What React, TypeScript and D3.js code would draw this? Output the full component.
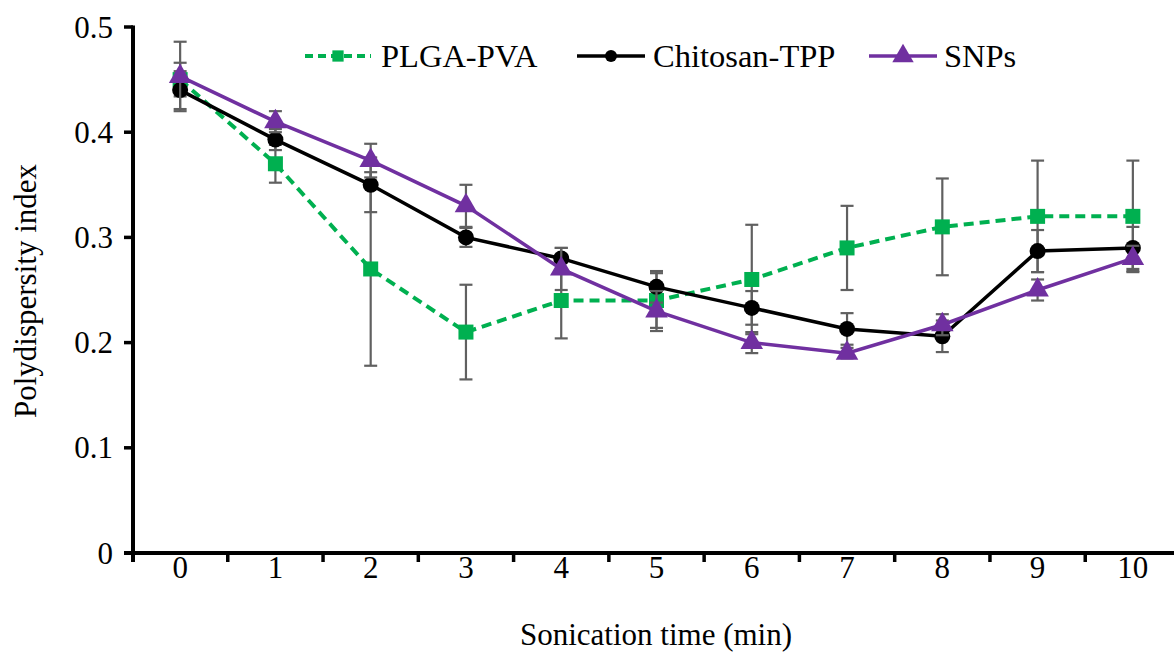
import React from "react";
import * as d3 from "d3";

const categories = ["0", "1", "2", "3", "4", "5", "6", "7", "8", "9", "10"];
const plgaValues = [0.45, 0.37, 0.27, 0.21, 0.24, 0.24, 0.26, 0.29, 0.31, 0.32, 0.32];
const plgaErrors = [0.016, 0.018, 0.092, 0.045, 0.036, 0.026, 0.052, 0.04, 0.046, 0.053, 0.053];
const chitosanValues = [0.44, 0.393, 0.35, 0.3, 0.28, 0.253, 0.233, 0.213, 0.206, 0.287, 0.29];
const chitosanErrors = [0.018, 0.01, 0.026, 0.009, 0.01, 0.015, 0.016, 0.015, 0.015, 0.02, 0.02];
const snpValues = [0.453, 0.41, 0.373, 0.33, 0.27, 0.23, 0.2, 0.19, 0.217, 0.25, 0.28];
const snpErrors = [0.033, 0.01, 0.016, 0.02, 0.02, 0.019, 0.01, 0.005, 0.01, 0.01, 0.012];
const yTicks = [0, 0.1, 0.2, 0.3, 0.4, 0.5];
const seriesNames = ["PLGA-PVA", "Chitosan-TPP", "SNPs"];

const FONT = "'Liberation Serif', 'Times New Roman', serif";
const FS = 31;

export default function App() {
  const W = 1174;
  const H = 657;
  const x = d3.scaleBand<string>().domain(categories).range([132.5, 1180.5]).padding(0);
  const y = d3.scaleLinear().domain([0, 0.5]).range([553, 27]);
  const cx = (c: string) => (x(c) as number) + x.bandwidth() / 2;
  const line = d3
    .line<number>()
    .x((_, i) => cx(categories[i]))
    .y((d) => y(d));

  const series = [
    { name: seriesNames[0], values: plgaValues, errors: plgaErrors, color: "#00B050", dash: "10,6", marker: "square" },
    { name: seriesNames[1], values: chitosanValues, errors: chitosanErrors, color: "#000000", dash: null, marker: "circle" },
    { name: seriesNames[2], values: snpValues, errors: snpErrors, color: "#7030A0", dash: null, marker: "triangle" },
  ];

  const triPath = (size: number) => d3.symbol().type(d3.symbolTriangle).size(size)() as string;

  const marker = (kind: string, color: string, px: number, py: number, scale = 1, key?: any) => {
    if (kind === "square") {
      const s = 15 * scale;
      return <rect key={key} x={px - s / 2} y={py - s / 2} width={s} height={s} fill={color} />;
    }
    if (kind === "circle") {
      return <circle key={key} cx={px} cy={py} r={8 * scale} fill={color} />;
    }
    return (
      <path key={key} d={triPath(220 * scale * scale)} transform={`translate(${px},${py})`} fill={color} />
    );
  };

  const boundaries = categories.slice(1).map((c) => x(c) as number);

  const legendItems = [
    { x0: 305, x1: 371, tx: 381 },
    { x0: 577, x1: 645, tx: 653 },
    { x0: 869, x1: 937, tx: 944 },
  ];
  const legendY = 56;

  return (
    <svg width={W} height={H} style={{ position: "absolute", left: 0, top: 0, background: "#fff", fontFamily: FONT }}>
      <rect x={0} y={0} width={W} height={H} fill="#fff" />
      {/* Y axis */}
      <line x1={133} x2={133} y1={y(0.5) - 1.5} y2={y(0) + 9} stroke="#000" strokeWidth={4} />
      {yTicks.map((t) => (
        <g key={t}>
          <line x1={124} x2={133} y1={y(t)} y2={y(t)} stroke="#000" strokeWidth={3.5} />
          <text x={113} y={y(t) + 10.5} fontSize={FS} textAnchor="end" fill="#000">
            {d3.format("")(t)}
          </text>
        </g>
      ))}
      {/* X axis */}
      <line x1={124} x2={W} y1={y(0)} y2={y(0)} stroke="#000" strokeWidth={4} />
      {boundaries.map((b, i) => (
        <line key={i} x1={b} x2={b} y1={y(0)} y2={y(0) + 9} stroke="#000" strokeWidth={3.5} />
      ))}
      {categories.map((c) => (
        <text key={c} x={cx(c)} y={578} fontSize={FS} textAnchor="middle" fill="#000">
          {c}
        </text>
      ))}
      <text x={656} y={645} fontSize={FS} textAnchor="middle" fill="#000">
        Sonication time (min)
      </text>
      <text transform={`translate(36,291) rotate(-90)`} fontSize={FS} textAnchor="middle" fill="#000">
        Polydispersity index
      </text>

      {/* Series */}
      {series.map((s, si) => (
        <g key={si}>
          {s.values.map((v, i) => {
            const px = cx(categories[i]);
            const top = y(v + s.errors[i]);
            const bot = y(v - s.errors[i]);
            return (
              <g key={i} stroke="#606060" strokeWidth={2.2}>
                <line x1={px} x2={px} y1={top} y2={bot} />
                <line x1={px - 6.5} x2={px + 6.5} y1={top} y2={top} />
                <line x1={px - 6.5} x2={px + 6.5} y1={bot} y2={bot} />
              </g>
            );
          })}
          <path
            d={line(s.values) as string}
            fill="none"
            stroke={s.color}
            strokeWidth={s.dash ? 4 : 3.5}
            strokeDasharray={s.dash || undefined}
          />
          {s.values.map((v, i) => marker(s.marker, s.color, cx(categories[i]), y(v), 1, i))}
        </g>
      ))}

      {/* Legend */}
      {series.map((s, si) => {
        const L = legendItems[si];
        return (
          <g key={si}>
            <line
              x1={L.x0}
              x2={L.x1}
              y1={legendY}
              y2={legendY}
              stroke={s.color}
              strokeWidth={s.dash ? 4 : 3.5}
              strokeDasharray={s.dash ? "8,5" : undefined}
            />
            {marker(s.marker, s.color, (L.x0 + L.x1) / 2, legendY, s.marker === "triangle" ? 0.95 : 0.75)}
            <text x={L.tx} y={legendY + 11} fontSize={32.5} fill="#000">
              {s.name}
            </text>
          </g>
        );
      })}
    </svg>
  );
}
